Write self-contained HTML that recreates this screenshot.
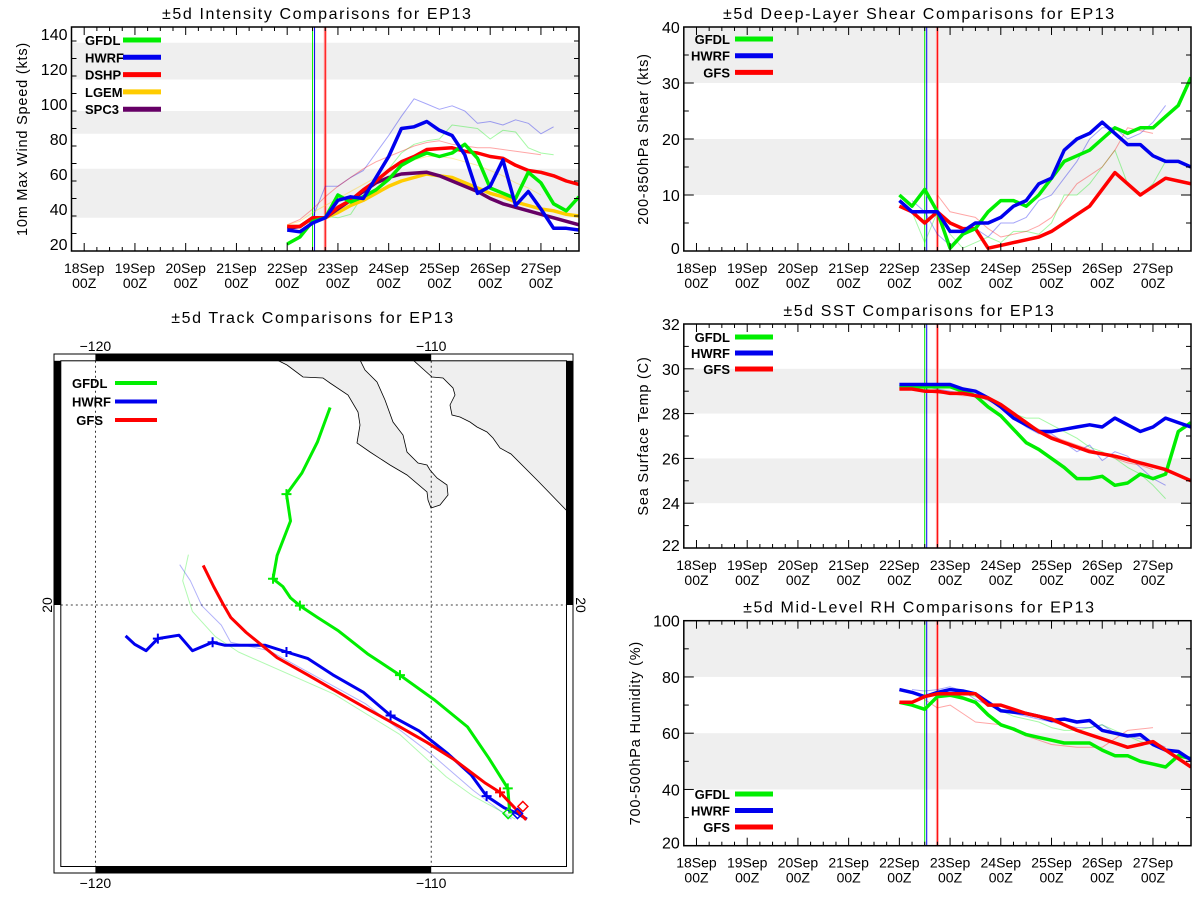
<!DOCTYPE html>
<html><head><meta charset="utf-8"><title>EP13 Comparisons</title>
<style>
html,body{margin:0;padding:0;background:#fff;}
svg{display:block;font-family:"Liberation Sans",sans-serif;}
</style></head>
<body>
<svg id="chart" width="1200" height="900" viewBox="0 0 1200 900" xmlns="http://www.w3.org/2000/svg"></svg>
<script>
// ---------- shared tick labels ----------
const dayLabels = ["18Sep","19Sep","20Sep","21Sep","22Sep","23Sep","24Sep","25Sep","26Sep","27Sep"];
const hourLabel = "00Z";
const t0 = 4, dt = 0.25;

// ---------- Intensity (kts) ----------
const intGFDL = [20,24,33,35,48,44,47,51,57,65,69,72,70,72,77,69,52,49,46,61,55,43,39,47];
const intHWRF = [28,27,32,35,45,47,46,58,70,86,87,90,85,82,71,49,53,68,42,50,40,29,29,28];
const intDSHP = [30,30,35,35,41,45,51,56,62,67,70,74,74.5,75,73,72,70,69,65,62,61,59,56,54];
const intLGEM = [30,30,35,35,38,42,45,49,53,56,58,60,59,58,55,52,49,47,44,42,40,39,37,36];
const intSPC3 = [29,30,35,35,40,45,50,55,58,60,60.5,61,59,56,53,50,46,43,41,39,37,35,33,31];
const intHWRFprev = [null,null,35,53,53,58,62,72,82,93,103,100,97,99,96,89,90,88,91,89,83,87];
const intGFDLprev = [null,null,null,36,35,37,48,56,63,72,77,79,80,88,87,86,80,85,84,75,72,71];
const intDSHPprev = [31,34,40,47,53,58,63,67,70,73,76,78,79,77,76,75,75,74,73,72,71,null];
const intLGEMprev = [31,33,38,42,46,50,54,58,62,65,68,70,70,69,67,65,62,59,55,52,48,null];
const intTicks = [20,40,60,80,100,120,140];

// ---------- Shear (kts) ----------
const shrGFDL = [10,8,11,7,0.5,3,4,7,9,9,8,10,13,16,17,18,20,22,21,22,22,24,26,31];
const shrHWRF = [9,7,7,7,3.5,3.5,5,5,6,8,9,12,13,18,20,21,23,21,19,19,17,16,16,15];
const shrGFS  = [8,7,5,7,5,4,4,0.5,1,1.5,2,2.5,3.5,5,6.5,8,11,14,12,10,11.5,13,12.5,12];
const shrHWRFprev = [null,9,7,3,1,3,4,2.5,5,5,6,9,10,13,16,20,22,22,20,21,23,26];
const shrGFDLprev = [null,7,1.5,7,3,0.5,1.5,2.5,1.5,3.5,3.5,3,5,10,10,12,15,18,12,10,12,16];
const shrGFSprev  = [null,null,null,10,7,6.5,6,4,2.5,3,3.5,4.5,6,9,12,13.5,15,18,22,21.5,21,null];
const shrTicks = [0,10,20,30,40];

// ---------- SST (C) ----------
const sstGFDL = [29.2,29.2,29.2,29.2,29.2,29.0,28.8,28.3,27.9,27.3,26.7,26.4,26.0,25.6,25.1,25.1,25.2,24.8,24.9,25.3,25.1,25.3,27.2,27.6];
const sstHWRF = [29.3,29.3,29.3,29.3,29.3,29.1,29.0,28.7,28.3,27.8,27.5,27.2,27.2,27.3,27.4,27.5,27.4,27.8,27.5,27.2,27.4,27.8,27.6,27.4];
const sstGFS  = [29.1,29.1,29.0,29.0,28.9,28.9,28.8,28.7,28.4,28.0,27.6,27.2,26.9,26.7,26.5,26.3,26.2,26.1,25.95,25.8,25.65,25.5,25.25,25.0];
const sstHWRFprev = [null,29.3,29.2,29.1,29.0,28.9,28.8,28.6,28.3,27.8,27.4,27.1,27.1,26.7,26.3,26.6,25.9,26.3,26.1,25.6,25.1,24.8];
const sstGFDLprev = [null,29.2,29.1,29.0,28.9,28.9,28.8,28.6,28.3,28.0,27.8,27.8,27.5,27.2,26.9,26.5,26.3,26.0,25.6,25.3,24.8,24.2];
const sstGFSprev  = [null,29.1,29.0,28.9,28.9,28.8,28.8,28.6,28.3,27.9,27.6,27.3,27.0,26.8,26.6,26.4,26.2,26.0,25.8,25.7,25.5,null];
const sstTicks = [22,24,26,28,30,32];

// ---------- RH (%) ----------
const rhGFDL = [71,70,68.5,73,73.5,72.5,71,66.5,63,61.5,59.5,58.5,57.5,56.5,56.5,56.5,54,52,52,50,49,48,52,51];
const rhHWRF = [75.5,74.5,73,74.5,75.5,75,74,71,68,67.5,67,66,64.5,65,64,64.5,61,60,59,59.5,56,54,53.5,50.5];
const rhGFS  = [71,71,73,74,74,74,74,70,70,68.5,67,66,65,63,61,59.5,58,56.5,55,56,57,54,51,48];
const rhHWRFprev = [null,75.5,75,75.5,76.5,75,72,70,68,67,66,65,64,63,62,62,63,60,59,58,57,55];
const rhGFDLprev = [null,null,null,null,null,74,73,71,68,66,65,64,62,61,61,62,63,61,59,57,56,null];
const rhGFSprev  = [null,null,72,69,70,67,64,63.5,63,61,59,57.5,56,55.5,55,55,55,58,61,61.5,62,null];
const rhTicks = [20,40,60,80,100];

// ---------- Track (lon, lat) ----------
const trkGFDLlon = [-107.66,-107.72,-108.29,-108.92,-109.90,-110.93,-111.90,-112.76,-113.39,-113.91,-114.19,-114.42,-114.71,-114.59,-114.19,-114.31,-113.85,-113.39,-113.01];
const trkGFDLlat = [13.79,14.54,15.45,16.37,17.17,17.91,18.55,19.23,19.63,19.98,20.21,20.55,20.78,21.47,22.50,23.30,23.93,24.85,25.88];
const trkGFDLmark = [1,5,9,12,15];
const trkHWRFlon = [-107.15,-107.43,-107.83,-108.35,-108.81,-109.50,-110.36,-111.21,-112.02,-112.93,-113.68,-114.31,-114.94,-116.14,-116.51,-117.11,-117.51,-118.14,-118.49,-118.83,-119.10];
const trkHWRFlat = [13.62,13.79,13.96,14.31,14.94,15.57,16.25,16.71,17.40,17.92,18.41,18.60,18.80,18.80,18.89,18.64,19.10,19.00,18.64,18.83,19.08];
const trkHWRFmark = [3,7,11,14,17];
const trkGFSlon = [-107.17,-107.95,-108.41,-109.32,-110.13,-110.93,-111.96,-112.88,-113.68,-114.59,-115.51,-115.97,-116.20,-116.48,-116.79];
const trkGFSlat = [13.60,14.42,14.71,15.40,15.91,16.37,16.94,17.46,17.92,18.43,19.18,19.63,20.03,20.55,21.18];
const trkGFSmark = [1];
const trkHWRFprevLon = [-107.61,-108.75,-110.01,-111.96,-114.82,-115.97,-116.25,-116.83,-117.17,-117.49];
const trkHWRFprevLat = [13.62,14.48,15.57,17.06,18.64,18.89,19.40,19.98,20.72,21.20];
const trkGFDLprevLon = [-107.49,-108.75,-109.55,-110.93,-112.88,-115.74,-116.43,-117.11,-117.40,-117.23];
const trkGFDLprevLat = [13.62,14.31,14.88,16.14,17.34,18.60,19.06,19.81,20.72,21.50];

const NS = "http://www.w3.org/2000/svg";
const root = document.getElementById('chart');
function mk(tag, attrs, name, parent){
  const el = document.createElementNS(NS, tag);
  for (const k in attrs) el.setAttribute(k, attrs[k]);
  
  
  (parent || root).appendChild(el);
  return el;
}
function txt(x, y, s, name, size, anchor, parent, extra){
  const a = {x:x, y:y, 'font-size':size, 'text-anchor':anchor||'middle', fill:'#000'};
  if (extra) for (const k in extra) a[k] = extra[k];
  const t = mk('text', a, name, parent);
  t.textContent = s;
  return t;
}
const GREEN = "#00ee00", BLUE = "#0000ee", RED = "#ff0000", GOLD = "#ffcc00", PURPLE = "#660066";

function timePanel(P){
  const g = mk('g', {}, P.id + '-panel');
  const xs = d => P.x0 + (d + 0.25) / 10 * (P.x1 - P.x0);
  const ys = v => P.y1 - (v - P.ymin) / (P.ymax - P.ymin) * (P.y1 - P.y0);
  P.bands.forEach((b, i) => {
    mk('rect', {x:P.x0, y:ys(b[1]), width:P.x1-P.x0, height:ys(b[0])-ys(b[1]), fill:'#efefef'}, P.id + '-band-' + i, g);
  });
  const cp = mk('clipPath', {id:P.id + '-clip'}, P.id + '-clip', g);
  mk('rect', {x:P.x0, y:P.y0, width:P.x1-P.x0, height:P.y1-P.y0}, 'clip-rect', cp);
  const sg = mk('g', {'clip-path':'url(#' + P.id + '-clip)'}, P.id + '-series', g);
  mk('line', {x1:xs(4.5), x2:xs(4.5), y1:P.y0, y2:P.y1, stroke:GREEN, 'stroke-width':1}, P.id + '-gfdl-init-line', sg);
  mk('line', {x1:xs(4.5)+2, x2:xs(4.5)+2, y1:P.y0, y2:P.y1, stroke:BLUE, 'stroke-width':1}, P.id + '-hwrf-init-line', sg);
  mk('line', {x1:xs(4.75), x2:xs(4.75), y1:P.y0, y2:P.y1, stroke:'#ffaaaa', 'stroke-width':3}, P.id + '-red-init-band', sg);
  mk('line', {x1:xs(4.75), x2:xs(4.75), y1:P.y0, y2:P.y1, stroke:RED, 'stroke-width':1}, P.id + '-red-init-line', sg);
  const drawSeries = (vals, color, w, op, name) => {
    let d = '', pen = false;
    vals.forEach((v, i) => {
      if (v === null) { pen = false; return; }
      d += (pen ? 'L' : 'M') + xs(t0 + i*dt).toFixed(1) + ',' + ys(v).toFixed(1);
      pen = true;
    });
    mk('path', {d:d, fill:'none', stroke:color, 'stroke-width':w, 'stroke-opacity':op, 'stroke-linejoin':'round'}, name, sg);
  };
  P.thin.forEach(s => drawSeries(s[0], s[1], 1, 0.35, s[2]));
  P.thick.forEach(s => drawSeries(s[0], s[1], 3.5, 1, s[2]));
  mk('rect', {x:P.x0, y:P.y0, width:P.x1-P.x0, height:P.y1-P.y0, fill:'none', stroke:'#000', 'stroke-width':1.5}, P.id + '-frame', g);
  for (let q = 0; q < 40; q++) {
    const d = q * 0.25;
    const x = xs(d);
    if (x <= P.x0 + 1 || x >= P.x1 - 1) continue;
    const L = (q % 4 === 0) ? 8 : 4;
    mk('line', {x1:x, x2:x, y1:P.y1, y2:P.y1-L, stroke:'#000', 'stroke-width':1}, 'x-tick', g);
    mk('line', {x1:x, x2:x, y1:P.y0, y2:P.y0+L, stroke:'#000', 'stroke-width':1}, 'x-tick-top', g);
  }
  dayLabels.forEach((s, i) => {
    txt(xs(i), P.y1 + 22, s, P.id + '-x-label-day', 14, 'middle', g);
    txt(xs(i), P.y1 + 37, hourLabel, P.id + '-x-label-hour', 14, 'middle', g);
  });
  for (let v = P.ymin; v <= P.ymax + 1e-6; v += P.minor) {
    const y = ys(v);
    if (y >= P.y1 - 1 || y <= P.y0 + 1) continue;
    const major = P.ticks.some(t => Math.abs(t - v) < 1e-6);
    const L = major ? 10 : 5;
    mk('line', {x1:P.x0, x2:P.x0+L, y1:y, y2:y, stroke:'#000', 'stroke-width':1}, 'y-tick', g);
    mk('line', {x1:P.x1, x2:P.x1-L, y1:y, y2:y, stroke:'#000', 'stroke-width':1}, 'y-tick-right', g);
  }
  P.ticks.forEach(v => txt(P.x0 - 4, Math.min(ys(v), P.y1 - 3) + 6, String(v), P.id + '-y-label', 16, 'end', g));
  txt(0, 0, P.ytitle, P.id + '-y-axis-title', 14.5, 'middle', g, {transform:'translate(' + P.ytx + ',' + ((P.y0+P.y1)/2) + ') rotate(-90)', 'letter-spacing':'0.8'});
  txt((P.x0+P.x1)/2 + P.tdx, P.y0 - 8, P.title, P.id + '-title', 16, 'middle', g, {'letter-spacing':'1.6'});
  P.legend.forEach((L, i) => {
    const y = P.ly + i * P.lstep;
    txt(P.lx, y + 5, L[0], P.id + '-legend-label', 13, P.lanchor, g, {'font-weight':'bold'});
    mk('line', {x1:P.llx, x2:P.llx + 38, y1:y, y2:y, stroke:L[1], 'stroke-width':5}, P.id + '-legend-swatch', g);
  });
}

timePanel({id:'intensity', x0:71.5, x1:579, y0:27, y1:251, ymin:16, ymax:144, minor:10, ticks:intTicks,
  bands:[[35,63],[83,96],[114,135]], title:'±5d Intensity Comparisons for EP13', tdx:-8,
  ytitle:'10m Max Wind Speed (kts)', ytx:27,
  thin:[[intHWRFprev,BLUE,'intensity-hwrf-prev'],[intGFDLprev,GREEN,'intensity-gfdl-prev'],[intDSHPprev,RED,'intensity-dshp-prev'],[intLGEMprev,GOLD,'intensity-lgem-prev']],
  thick:[[intLGEM,GOLD,'intensity-lgem'],[intSPC3,PURPLE,'intensity-spc3'],[intDSHP,RED,'intensity-dshp'],[intGFDL,GREEN,'intensity-gfdl'],[intHWRF,BLUE,'intensity-hwrf']],
  legend:[['GFDL',GREEN],['HWRF',BLUE],['DSHP',RED],['LGEM',GOLD],['SPC3',PURPLE]], lx:85, lanchor:'start', llx:123, ly:40, lstep:17.3});

timePanel({id:'shear', x0:683.8, x1:1191, y0:27, y1:251, ymin:0, ymax:40, minor:5, ticks:shrTicks,
  bands:[[10,20],[30,40]], title:'±5d Deep-Layer Shear Comparisons for EP13', tdx:-18,
  ytitle:'200-850hPa Shear (kts)', ytx:648,
  thin:[[shrHWRFprev,BLUE,'shear-hwrf-prev'],[shrGFDLprev,GREEN,'shear-gfdl-prev'],[shrGFSprev,RED,'shear-gfs-prev']],
  thick:[[shrGFS,RED,'shear-gfs'],[shrGFDL,GREEN,'shear-gfdl'],[shrHWRF,BLUE,'shear-hwrf']],
  legend:[['GFDL',GREEN],['HWRF',BLUE],['GFS',RED]], lx:730, lanchor:'end', llx:735, ly:39, lstep:16.7});

timePanel({id:'sst', x0:683.8, x1:1191, y0:324, y1:548, ymin:22, ymax:32, minor:1, ticks:sstTicks,
  bands:[[24,26],[28,30]], title:'±5d SST Comparisons for EP13', tdx:-18,
  ytitle:'Sea Surface Temp (C)', ytx:648,
  thin:[[sstHWRFprev,BLUE,'sst-hwrf-prev'],[sstGFDLprev,GREEN,'sst-gfdl-prev'],[sstGFSprev,RED,'sst-gfs-prev']],
  thick:[[sstGFDL,GREEN,'sst-gfdl'],[sstHWRF,BLUE,'sst-hwrf'],[sstGFS,RED,'sst-gfs']],
  legend:[['GFDL',GREEN],['HWRF',BLUE],['GFS',RED]], lx:730, lanchor:'end', llx:735, ly:337, lstep:16});

timePanel({id:'rh', x0:683.8, x1:1191, y0:620.7, y1:845.7, ymin:20, ymax:100, minor:10, ticks:rhTicks,
  bands:[[40,60],[80,100]], title:'±5d Mid-Level RH Comparisons for EP13', tdx:-18,
  ytitle:'700-500hPa Humidity (%)', ytx:640,
  thin:[[rhHWRFprev,BLUE,'rh-hwrf-prev'],[rhGFDLprev,GREEN,'rh-gfdl-prev'],[rhGFSprev,RED,'rh-gfs-prev']],
  thick:[[rhGFDL,GREEN,'rh-gfdl'],[rhHWRF,BLUE,'rh-hwrf'],[rhGFS,RED,'rh-gfs']],
  legend:[['GFDL',GREEN],['HWRF',BLUE],['GFS',RED]], lx:730, lanchor:'end', llx:735, ly:794, lstep:16.5});

// ---------- Track map ----------
(function(){
  const g = mk('g', {}, 'track-panel');
  const OX0 = 54, OX1 = 573, OY0 = 354, OY1 = 873;
  const IX0 = 60.8, IX1 = 566.5, IY0 = 360.8, IY1 = 866.5;
  const K = 33.58;
  const lx = lon => 95.4 + (lon + 120) * K;
  const ly = lat => 605 - (lat - 20) * K;
  txt(313, 323, '±5d Track Comparisons for EP13', 'track-title', 16, 'middle', g, {'letter-spacing':'1.6'});
  mk('rect', {x:OX0, y:OY0, width:OX1-OX0, height:OY1-OY0, fill:'#fff', stroke:'#000', 'stroke-width':1}, 'map-outer-frame', g);
  const cp = mk('clipPath', {id:'map-clip'}, 'map-clip', g);
  mk('rect', {x:IX0, y:IY0, width:IX1-IX0, height:IY1-IY0}, 'map-clip-rect', cp);
  const mg = mk('g', {'clip-path':'url(#map-clip)'}, 'map-content', g);
  const baja = [[277,360],[287,365],[303,377],[323,378],[330,383],[348,395],[358,412],[360,425],[357,443],[370,452],[390,465],[407,475],[427,492],[428,500],[431,508],[440,505],[448,495],[447,485],[437,478],[430,470],[427,465],[418,463],[407,452],[403,435],[393,422],[385,400],[377,382],[370,375],[365,370],[360,360]];
  mk('polygon', {points:baja.map(p=>p.join(',')).join(' ') + ' 360,355 277,355', fill:'#efefef', stroke:'#000', 'stroke-width':0.8}, 'baja-california-land', mg);
  const mainland = [[413,360],[432,377],[443,378],[453,388],[455,395],[450,405],[452,415],[460,417],[470,422],[477,427],[487,432],[493,438],[500,448],[511,454],[538,481],[568,512]];
  mk('polygon', {points:mainland.map(p=>p.join(',')).join(' ') + ' 570,512 570,355 413,355', fill:'#efefef', stroke:'#000', 'stroke-width':0.8}, 'mexico-mainland-land', mg);
  [-120,-110].forEach(lon => mk('line', {x1:lx(lon), x2:lx(lon), y1:IY0, y2:IY1, stroke:'#000', 'stroke-width':0.8, 'stroke-dasharray':'2,3'}, 'longitude-gridline', mg));
  mk('line', {x1:IX0, x2:IX1, y1:ly(20), y2:ly(20), stroke:'#000', 'stroke-width':0.8, 'stroke-dasharray':'2,3'}, 'latitude-gridline', mg);
  const path = (lons, lats, color, w, op, name) => {
    const d = lons.map((lon, i) => (i ? 'L' : 'M') + lx(lon).toFixed(1) + ',' + ly(lats[i]).toFixed(1)).join('');
    mk('path', {d:d, fill:'none', stroke:color, 'stroke-width':w, 'stroke-opacity':op, 'stroke-linejoin':'round'}, name, mg);
  };
  const marks = (lons, lats, idx, color, name) => idx.forEach(i => {
    const x = lx(lons[i]), y = ly(lats[i]);
    mk('path', {d:'M' + (x-5) + ',' + y + 'H' + (x+5) + 'M' + x + ',' + (y-5) + 'V' + (y+5), stroke:color, 'stroke-width':2}, name, mg);
  });
  path(trkHWRFprevLon, trkHWRFprevLat, BLUE, 1, 0.3, 'track-hwrf-prev');
  path(trkGFDLprevLon, trkGFDLprevLat, GREEN, 1, 0.3, 'track-gfdl-prev');
  path(trkGFDLlon, trkGFDLlat, GREEN, 3, 1, 'track-gfdl');
  path(trkHWRFlon, trkHWRFlat, BLUE, 3, 1, 'track-hwrf');
  path(trkGFSlon, trkGFSlat, RED, 3, 1, 'track-gfs');
  marks(trkGFDLlon, trkGFDLlat, trkGFDLmark, GREEN, 'track-gfdl-day-mark');
  marks(trkHWRFlon, trkHWRFlat, trkHWRFmark, BLUE, 'track-hwrf-day-mark');
  marks(trkGFSlon, trkGFSlat, trkGFSmark, RED, 'track-gfs-day-mark');
  const dia = (lon, lat, color, name) => { const x = lx(lon), y = ly(lat);
    mk('path', {d:'M'+x+','+(y-5)+'L'+(x+5)+','+y+'L'+x+','+(y+5)+'L'+(x-5)+','+y+'Z', fill:'none', stroke:color, 'stroke-width':1.5}, name, mg); };
  dia(trkGFDLlon[0]-0.05, trkGFDLlat[0], GREEN, 'track-gfdl-start');
  dia(trkHWRFlon[1], trkHWRFlat[1], BLUE, 'track-hwrf-start');
  dia(trkGFSlon[0]-0.1, trkGFSlat[0]+0.4, RED, 'track-gfs-start');
  mk('rect', {x:IX0, y:IY0, width:IX1-IX0, height:IY1-IY0, fill:'none', stroke:'#000', 'stroke-width':1}, 'map-inner-frame', g);
  mk('rect', {x:lx(-120), y:OY0, width:lx(-110)-lx(-120), height:IY0-OY0, fill:'#000'}, 'map-frame-bar-top', g);
  mk('rect', {x:lx(-120), y:IY1, width:lx(-110)-lx(-120), height:OY1-IY1, fill:'#000'}, 'map-frame-bar-bottom', g);
  mk('rect', {x:OX0, y:IY0, width:IX0-OX0, height:ly(20)-IY0, fill:'#000'}, 'map-frame-bar-left', g);
  mk('rect', {x:IX1, y:IY0, width:OX1-IX1, height:ly(20)-IY0, fill:'#000'}, 'map-frame-bar-right', g);
  [-120,-110].forEach(lon => {
    txt(lx(lon), 351, String(lon).replace('-', '\u2212'), 'map-lon-label-top', 14, 'middle', g);
    txt(lx(lon), 888, String(lon).replace('-', '\u2212'), 'map-lon-label-bottom', 14, 'middle', g);
  });
  txt(0, 0, '20', 'map-lat-label-left', 14, 'middle', g, {transform:'translate(52,' + ly(20) + ') rotate(-90)'});
  txt(0, 0, '20', 'map-lat-label-right', 14, 'middle', g, {transform:'translate(576,' + ly(20) + ') rotate(90)'});
  [['GFDL',GREEN],['HWRF',BLUE],['GFS',RED]].forEach((L, i) => {
    const y = 383 + i * 18.5;
    txt(i === 2 ? 103 : 72, y + 5, L[0], 'track-legend-label', 13, i === 2 ? 'end' : 'start', g, {'font-weight':'bold'});
    mk('line', {x1:115, x2:157, y1:y, y2:y, stroke:L[1], 'stroke-width':4}, 'track-legend-swatch', g);
  });
})();
</script>
</body></html>
